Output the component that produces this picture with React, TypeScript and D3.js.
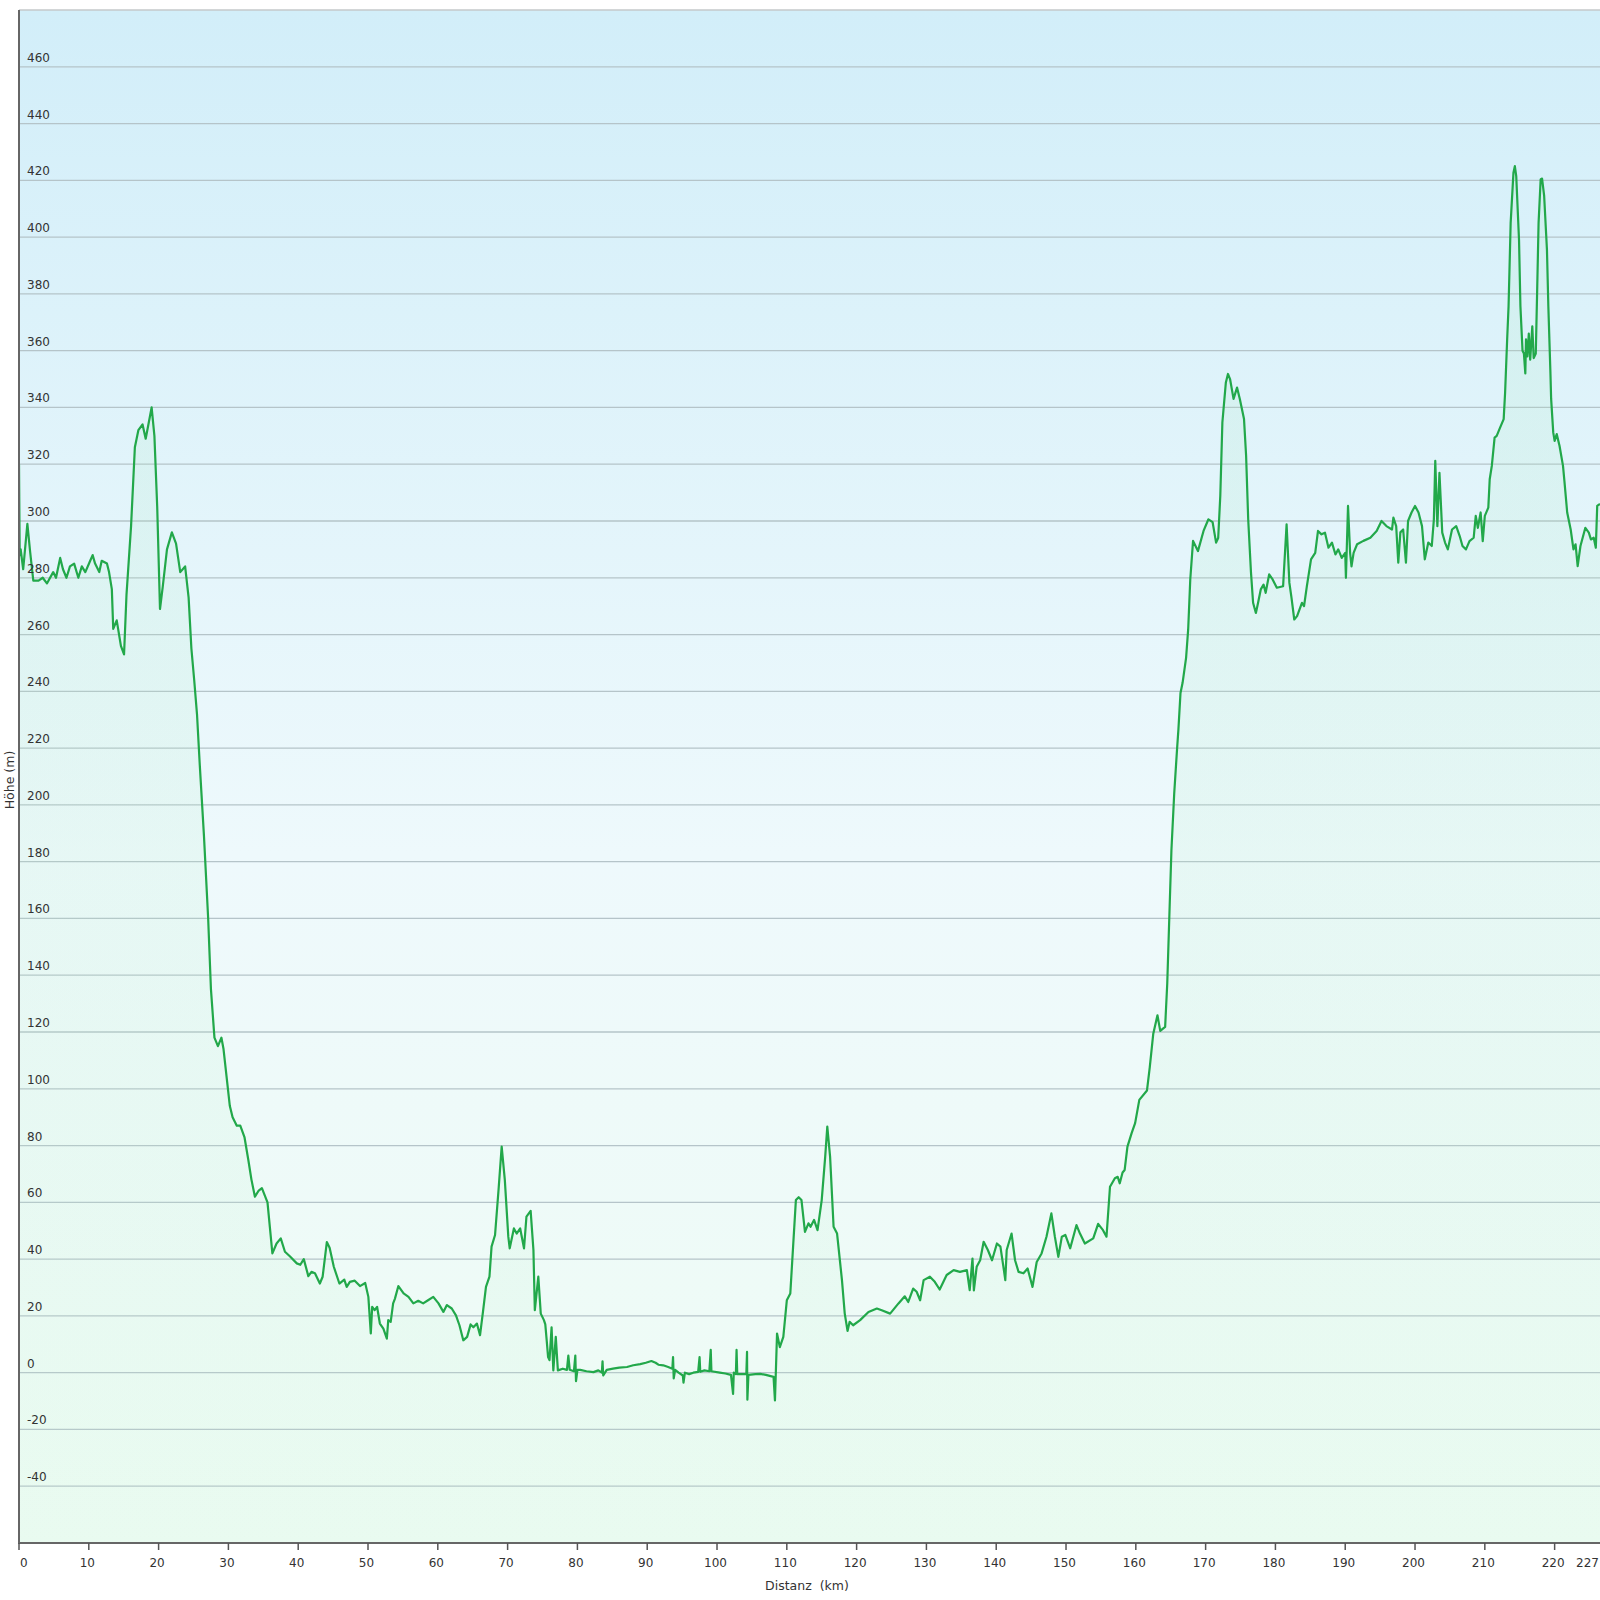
import React from "react";
import * as d3 from "d3";

const distanceKm: number[] = [
  0, 0.1, 0.24, 0.6, 1.2, 1.6, 2.05, 2.8, 3.4, 4.0, 4.9, 5.3, 5.9, 6.3, 6.8, 7.3, 7.9, 8.5, 9.0, 9.5,
  10.2, 10.55, 10.9, 11.5, 11.85, 12.6, 12.9, 13.3, 13.5, 14.0, 14.6, 15.05, 15.4, 16.05, 16.6, 17.1, 17.7, 18.15, 19.0, 19.4,
  19.8, 20.2, 20.6, 21.2, 21.9, 22.5, 23.1, 23.8, 24.3, 24.7, 25.1, 25.5, 25.9, 26.5, 27.1, 27.5, 28.0, 28.5, 29.0, 29.3,
  30.2, 30.6, 31.2, 31.7, 32.3, 32.85, 33.3, 33.8, 34.3, 34.8, 35.6, 35.95, 36.3, 36.9, 37.5, 38.1, 38.8, 39.8, 40.3, 40.8,
  41.45, 41.9, 42.4, 43.1, 43.5, 44.1, 44.5, 45.1, 45.9, 46.6, 46.95, 47.4, 48.1, 48.85, 49.6, 50.05, 50.4, 50.6, 50.95, 51.3,
  51.7, 52.2, 52.7, 52.9, 53.25, 53.6, 53.85, 54.35, 55.1, 55.8, 56.5, 57.2, 57.9, 58.6, 59.35, 60.1, 60.8, 61.3, 62.0, 62.6,
  63.1, 63.65, 64.2, 64.7, 65.1, 65.6, 66.05, 66.5, 66.9, 67.4, 67.7, 68.2, 68.7, 69.15, 69.6, 70.1, 70.3, 70.9, 71.3, 71.8,
  72.35, 72.7, 73.3, 73.7, 73.9, 74.4, 74.75, 75.2, 75.4, 75.6, 75.8, 76.0, 76.3, 76.55, 76.9, 77.2, 77.9, 78.5, 78.7, 78.9,
  79.5, 79.7, 79.8, 80.0, 80.4, 81.3, 82.3, 83.0, 83.5, 83.6, 83.7, 84.2, 85.1, 86.0, 87.1, 88.0, 89.0, 89.8, 90.6, 91.2,
  91.6, 92.3, 93.0, 93.6, 93.7, 93.8, 94.0, 94.5, 95.1, 95.2, 95.4, 96.0, 96.6, 97.3, 97.5, 97.6, 98.2, 98.9, 99.1, 99.2,
  100.4, 101.2, 102.0, 102.3, 102.4, 102.7, 102.8, 102.9, 103.5, 104.2, 104.3, 104.35, 104.5, 105.5, 106.2, 107.0, 108.1, 108.3, 108.6, 109.0,
  109.5, 110.0, 110.5, 110.9, 111.3, 111.7, 112.1, 112.6, 113.1, 113.4, 113.9, 114.4, 115.0, 115.5, 115.8, 116.2, 116.7, 117.2, 117.9, 118.3,
  118.7, 119.0, 119.5, 120.5, 121.7, 122.9, 123.6, 124.8, 126.0, 126.9, 127.4, 128.1, 128.6, 129.1, 129.6, 130.5, 131.2, 131.9, 132.9, 133.9,
  134.8, 135.8, 136.2, 136.6, 136.8, 137.2, 137.7, 138.2, 138.8, 139.4, 140.1, 140.6, 141.1, 141.3, 141.5, 142.2, 142.7, 143.2, 143.9, 144.5,
  145.2, 145.8, 146.5, 147.2, 147.9, 148.4, 148.9, 149.4, 149.9, 150.6, 151.5, 152.0, 152.7, 153.9, 154.6, 155.3, 155.8, 156.3, 157.0, 157.4,
  157.7, 158.1, 158.4, 158.8, 159.4, 159.9, 160.5, 161.6, 162.0, 162.5, 163.1, 163.5, 164.2, 164.5, 164.8, 165.1, 165.5, 165.9, 166.1, 166.4,
  166.7, 167.2, 167.5, 167.8, 168.2, 168.9, 169.7, 170.4, 171.0, 171.5, 171.8, 172.1, 172.4, 172.9, 173.2, 173.5, 174.0, 174.5, 174.9, 175.5,
  175.8, 176.1, 176.5, 176.8, 177.2, 177.5, 177.9, 178.3, 178.6, 179.1, 179.6, 180.2, 181.1, 181.6, 182.0, 182.3, 182.7, 183.1, 183.8, 184.1,
  184.5, 185.1, 185.7, 186.1, 186.6, 187.1, 187.6, 188.1, 188.6, 189.0, 189.5, 190.0, 190.1, 190.4, 190.7, 190.9, 191.2, 191.7, 192.6, 193.6,
  194.5, 195.2, 195.9, 196.7, 196.9, 197.3, 197.6, 197.9, 198.3, 198.7, 199.0, 199.5, 200.0, 200.5, 201.0, 201.4, 201.9, 202.4, 202.7, 202.9,
  203.2, 203.5, 203.9, 204.3, 204.7, 205.3, 205.9, 206.4, 206.8, 207.3, 207.8, 208.4, 208.7, 209.0, 209.4, 209.7, 210.0, 210.5, 210.7, 211.0,
  211.4, 211.7, 212.2, 212.7, 212.9, 213.2, 213.4, 213.7, 214.1, 214.3, 214.5, 214.9, 215.1, 215.4, 215.6, 215.8, 215.9, 216.1, 216.3, 216.5,
  216.8, 217.0, 217.3, 217.5, 217.7, 218.0, 218.2, 218.5, 218.9, 219.1, 219.4, 219.5, 219.8, 220.0, 220.3, 220.7, 221.2, 221.4, 221.8, 222.3,
  222.7, 223.0, 223.3, 223.7, 224.4, 224.9, 225.2, 225.6, 225.9, 226.1, 226.5,
];

const elevationM: number[] = [
  320, 288, 290, 283, 299, 289, 279, 279, 280, 278, 282, 280, 287, 283, 280, 284, 285, 280, 284, 282,
  286, 288, 285, 282, 286, 285, 282, 276, 262, 265, 256, 253, 274, 298, 326, 332, 334, 329, 340, 330,
  305, 269, 277, 290, 296, 292, 282, 284, 273, 255, 244, 232, 214, 189, 160, 135, 118, 115, 118, 114,
  94, 90, 87, 87, 83, 75, 68, 62, 64, 65, 60, 51, 42, 45.5, 47.3, 42.6, 41, 38.5, 38, 40,
  34, 35.5, 35, 31.4, 33.8, 46, 44, 37.3, 31.4, 32.8, 30.2, 32, 32.4, 30.5, 31.6, 26.7, 13.8, 23.2, 22, 23.2,
  17.3, 15.5, 12, 18.5, 17.9, 24.4, 26, 30.5, 27.9, 26.7, 24.4, 25.3, 24.4, 25.5, 26.7, 24.4, 21.4, 23.8, 22.6, 20.2,
  16.7, 11.4, 12.6, 17, 16, 17.3, 13.2, 22, 30.2, 33.8, 44.4, 48.5, 64.4, 79.6, 67.9, 47.9, 43.8, 50.8, 49, 50.8,
  43.8, 55, 57, 43.2, 22, 33.8, 20.8, 18.5, 17, 11.4, 5.5, 4.4, 16, 0.8, 12.6, 0.8, 1.4, 1, 6, 1,
  0.5, 6, -3, 1, 1, 0.5, 0.2, 0.8, 0, 4, -1, 1, 1.4, 1.8, 2, 2.6, 3, 3.5, 4.1, 3.5,
  2.8, 2.6, 2, 1.4, 5.5, -2, 1, 0, -1, -3.5, 0, -0.5, 0, 0.3, 5.5, 0.3, 0.8, 0.5, 8, 0.5,
  0, -0.3, -0.8, -7.5, 0, -0.5, 8, -0.5, -0.5, -0.5, 7.3, -9.5, -0.8, -0.5, -0.4, -0.8, -1.5, -9.8, 13.8, 9,
  12.6, 25.5, 27.9, 44.4, 60.8, 61.8, 60.8, 49.6, 52.6, 51.4, 53.8, 50.2, 60.8, 76.1, 86.7, 76.1, 51.4, 49, 32.6, 20.8,
  14.7, 17.9, 16.7, 18.5, 21.4, 22.6, 22, 20.8, 24.4, 26.9, 24.9, 29.6, 28.5, 25.5, 32.6, 33.8, 32, 29.3, 34.4, 36.1,
  35.5, 36.1, 29.1, 40.2, 29, 37.3, 39.6, 46.1, 43.2, 39.6, 45.5, 44.4, 36.1, 32.6, 43.2, 49, 39.6, 35.5, 35, 36.7,
  30.2, 39, 42, 47.9, 56.1, 47.9, 40.8, 47.9, 48.5, 43.8, 52, 49, 45.5, 47.3, 52.4, 50.2, 47.9, 65.5, 68.5, 69,
  66.7, 70.5, 71.4, 79.6, 84.4, 87.9, 96.1, 99.4, 107.6, 119.4, 125.9, 120.4, 121.8, 137, 160.6, 184, 204, 219.4, 226.5, 239.4,
  243, 251.8, 261.8, 279.4, 293, 289.4, 296.5, 300.6, 299.6, 292.4, 294, 308.8, 334.7, 348.8, 351.8, 350, 343, 347, 343, 335.9,
  323, 300.6, 281.8, 271.2, 267.6, 271, 275.9, 277.6, 274.7, 281.2, 279.4, 276.5, 277, 298.8, 278.2, 273, 265.3, 266.5, 271.2, 270,
  277, 286.5, 288.8, 296.5, 295.3, 295.9, 290.6, 292.4, 288.2, 290, 287, 288.8, 280, 305.3, 288.8, 284, 288.8, 291.8, 293, 294.1,
  296.5, 300, 298.2, 297, 301.2, 298.2, 285.3, 296, 297, 285.3, 300, 303, 305.3, 303, 298.2, 286.5, 292.4, 291.2, 300.6, 321.2,
  298.2, 317, 295.9, 292.4, 290, 297, 298.2, 294.7, 291.2, 290, 292.9, 294.1, 301.8, 297.6, 303, 292.9, 301.8, 304.7, 314.7, 319.4,
  329.4, 330, 333, 335.9, 345, 364, 375.6, 405, 422.7, 425, 421.5, 399, 375.6, 360, 359, 352, 364, 358, 366, 356.8,
  368.6, 357.4, 359, 381.5, 405, 420.4, 420.6, 414.5, 395.6, 375.6, 352, 343, 331.2, 328.2, 330.6, 326.5, 319.4, 314.1, 303, 297,
  290, 291.8, 284.1, 291.2, 297.6, 295.9, 293.5, 294.1, 290.6, 305.3, 306,
];

const xTickValues: number[] = [0, 10, 20, 30, 40, 50, 60, 70, 80, 90, 100, 110, 120, 130, 140, 150, 160, 170, 180, 190, 200, 210, 220];
const xEndLabel = "227";
const yTickValues: number[] = [-40, -20, 0, 20, 40, 60, 80, 100, 120, 140, 160, 180, 200, 220, 240, 260, 280, 300, 320, 340, 360, 380, 400, 420, 440, 460];
const xTitle = "Distanz  (km)";
const yTitle = "Höhe (m)";

const W = 1600;
const H = 1600;
const left = 19;
const right = 1600;
const top = 10;
const bottom = 1543;

export default function App() {
  const x = d3.scaleLinear().domain([0, 226.5]).range([left, right]);
  const y = d3.scaleLinear().domain([-60, 480]).range([bottom, top]);
  const pts: [number, number][] = distanceKm.map((d, i) => [d, elevationM[i]]);
  const line = d3.line<[number, number]>().x((d) => x(d[0])).y((d) => y(d[1]));
  const area = d3
    .area<[number, number]>()
    .x((d) => x(d[0]))
    .y0(bottom)
    .y1((d) => y(d[1]));
  const font = "'DejaVu Sans', Verdana, sans-serif";
  return (
    <div style={{ position: "absolute", left: 0, top: 0 }}>
      <svg width={W} height={H} style={{ display: "block", background: "#ffffff" }}>
        <defs>
          <linearGradient id="bg" x1="0" y1="0" x2="0" y2="1">
            <stop offset="0" stopColor="#d2eef9" />
            <stop offset="0.55" stopColor="#eef9fc" />
            <stop offset="1" stopColor="#eefcf4" />
          </linearGradient>
          <linearGradient id="fillg" x1="0" y1="0" x2="0" y2="1">
            <stop offset="0" stopColor="#9fe6b4" stopOpacity="0.14" />
            <stop offset="1" stopColor="#c4f2d2" stopOpacity="0.12" />
          </linearGradient>
          <clipPath id="clip">
            <rect x={left} y={top} width={right - left} height={bottom - top} />
          </clipPath>
        </defs>
        <rect x={left} y={top} width={right - left} height={bottom - top} fill="url(#bg)" />
        {yTickValues.map((v) => (
          <line key={"g" + v} x1={left} x2={right} y1={y(v)} y2={y(v)} stroke="#b5c4c9" strokeWidth={1.3} />
        ))}
        <g clipPath="url(#clip)">
          <path d={area(pts) || ""} fill="url(#fillg)" />
          <path d={line(pts) || ""} fill="none" stroke="#22a84a" strokeWidth={2.2} strokeLinejoin="round" />
        </g>
        {yTickValues.map((v) => (
          <text key={"t" + v} x={27} y={y(v) - 5} fontFamily={font} fontSize={12} fill="#333">
            {v}
          </text>
        ))}
        <line x1={left} x2={right} y1={top} y2={top} stroke="#c4c8ca" strokeWidth={1.5} />
        <line x1={left} x2={left} y1={top} y2={bottom} stroke="#666" strokeWidth={2} />
        <line x1={left - 1} x2={right} y1={bottom} y2={bottom} stroke="#666" strokeWidth={2} />
        {xTickValues.map((v, i) => (
          <g key={"x" + v}>
            <line x1={x(v)} x2={x(v)} y1={bottom} y2={bottom + 7} stroke="#555" strokeWidth={1.5} />
            <text
              x={i === 0 ? x(v) + 1 : x(v) - 1.5}
              y={1567}
              textAnchor={i === 0 ? "start" : "middle"}
              fontFamily={font}
              fontSize={12}
              fill="#333"
            >
              {v}
            </text>
          </g>
        ))}
        <text x={1599} y={1567} textAnchor="end" fontFamily={font} fontSize={12} fill="#333">
          {xEndLabel}
        </text>
        <text
          x={807}
          y={1590}
          textAnchor="middle"
          fontFamily={font}
          fontSize={12.5}
          fill="#333"
          style={{ whiteSpace: "pre" }}
        >
          {xTitle}
        </text>
        <text
          transform="translate(13.5,780) rotate(-90)"
          textAnchor="middle"
          fontFamily={font}
          fontSize={12.5}
          fill="#333"
        >
          {yTitle}
        </text>
      </svg>
    </div>
  );
}
